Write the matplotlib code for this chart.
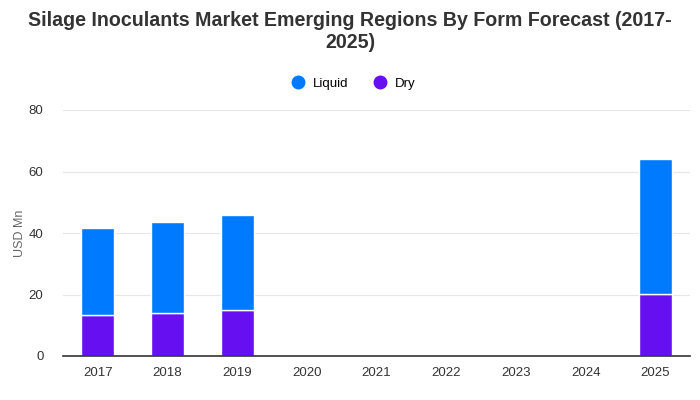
import matplotlib
matplotlib.use("Agg")
import matplotlib.pyplot as plt
from matplotlib.lines import Line2D

# -----------------------------
# Data
# -----------------------------
years = ["2017", "2018", "2019", "2020", "2021", "2022", "2023", "2024", "2025"]
dry = [13.2, 13.9, 14.8, 0, 0, 0, 0, 0, 20.2]
liquid = [28.3, 29.8, 31.2, 0, 0, 0, 0, 0, 44.0]

liquid_color = "#007BFF"
dry_color = "#6610F2"

plt.rcParams["font.family"] = ["Liberation Sans", "DejaVu Sans"]

fig = plt.figure(figsize=(7, 4), dpi=100)
ax = fig.add_axes([0.09, 0.11, 0.896, 0.615])

x = list(range(len(years)))
ax.bar(x, dry, width=0.47, color=dry_color, edgecolor="white", linewidth=1.0, zorder=3)
ax.bar(x, liquid, width=0.47, bottom=dry, color=liquid_color, edgecolor="white",
       linewidth=1.0, zorder=3)

ax.set_xlim(-0.5, len(years) - 0.5)
ax.set_ylim(0, 80)
ax.set_yticks([0, 20, 40, 60, 80])
ax.set_xticks(x)
ax.set_xticklabels(years)
ax.grid(axis="y", color="#e6e6e6", linewidth=0.8, zorder=0)
for s in ["top", "right", "left"]:
    ax.spines[s].set_visible(False)
ax.spines["bottom"].set_color("#333333")
ax.spines["bottom"].set_linewidth(1.2)
ax.spines["bottom"].set_zorder(5)
ax.tick_params(axis="both", length=0, labelsize=9.5, colors="#333333", pad=8)
ax.tick_params(axis="y", pad=14)
ax.set_ylabel("USD Mn", fontsize=9, color="#666666", labelpad=2)

fig.text(0.5, 0.922, "Silage Inoculants Market Emerging Regions By Form Forecast (2017-\n2025)",
         ha="center", va="center", fontsize=14.1, fontweight="bold", color="#333333",
         linespacing=1.2)

handles = [
    Line2D([], [], marker="o", linestyle="", markersize=9, color=liquid_color),
    Line2D([], [], marker="o", linestyle="", markersize=9, color=dry_color),
]
fig.legend(handles, ["Liquid", "Dry"], loc="center", bbox_to_anchor=(0.5, 0.79),
           ncol=2, frameon=False, fontsize=9.5, handletextpad=0.1, columnspacing=1.4)

plt.savefig("out.png", dpi=100)
plt.close()
